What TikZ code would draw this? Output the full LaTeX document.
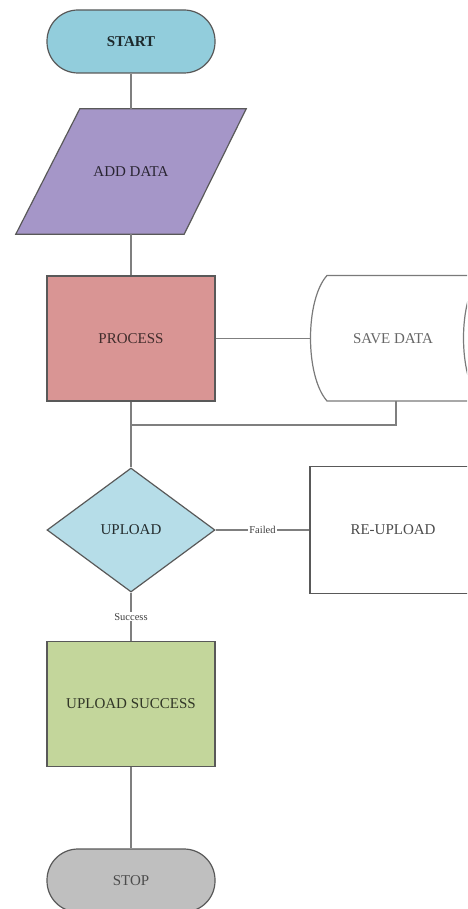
\documentclass[tikz,border=0pt]{standalone}
\usepackage{fontspec}
\setmainfont{Liberation Serif}
\usetikzlibrary{shapes.geometric,calc}
\definecolor{cstart}{HTML}{92CDDC}
\definecolor{cadd}{HTML}{A596C8}
\definecolor{cproc}{HTML}{D99594}
\definecolor{cupl}{HTML}{B6DDE8}
\definecolor{csucc}{HTML}{C3D69B}
\definecolor{cstop}{HTML}{BFBFBF}
\definecolor{cborder}{HTML}{595959}
\definecolor{cline}{HTML}{7F7F7F}
\tikzset{
  shapeborder/.style={draw=cborder, line width=1.2pt},
  flowline/.style={draw=cline, line width=1.6pt},
  terminal/.style={shapeborder, rounded corners=31pt, minimum width=168pt, minimum height=63pt, inner sep=0pt},
  procbox/.style={shapeborder, minimum width=168pt, minimum height=125pt, inner sep=0pt},
  boxtext/.style={font=\fontsize{15}{17}\selectfont},
  edgelabel/.style={fill=white, inner sep=1pt, font=\fontsize{10.5}{12}\selectfont, text=black!75},
}
\begin{document}
\begin{tikzpicture}[x=1pt,y=-1pt]
\useasboundingbox (0,0) rectangle (467,909);
\clip (0,0) rectangle (467,909);

% START
\node[terminal, fill=cstart, text=cstart!20!black, font=\fontsize{15}{17}\selectfont\bfseries] (start) at (131,41.5) {START};

% ADD DATA parallelogram
\node[minimum width=230pt, minimum height=125pt, inner sep=0pt] (add) at (131,171.5) {};
\draw[shapeborder, fill=cadd] ($(add.north west)+(64,0)$) -- (add.north east) -- ($(add.south east)+(-62,0)$) -- (add.south west) -- cycle;
\node[boxtext, text=cadd!25!black] (addtext) at (add.center) {ADD DATA};

% PROCESS
\node[procbox, fill=cproc, boxtext, text=cproc!30!black] (proc) at (131,338.5) {PROCESS};

% SAVE DATA (stored data)
\fill[white] (327,275.5) -- (480,275.5) .. controls (458,300) and (458,376) .. (480,401) -- (327,401) .. controls (305,376) and (305,300) .. (327,275.5) -- cycle;
\draw[shapeborder, draw=cborder!80] (480,275.5) -- (327,275.5) .. controls (305,300) and (305,376) .. (327,401) -- (480,401);
\draw[shapeborder, draw=cborder!80] (480,275.5) .. controls (458,300) and (458,376) .. (480,401);
\node[boxtext, text=black!60, minimum width=150pt, minimum height=125pt, inner sep=0pt] (save) at (393,338.5) {SAVE DATA};
\coordinate (savein) at (310.5,338.5);
\coordinate (saveout) at (396,401);
\coordinate (join) at (131,425);

% UPLOAD diamond
\node[diamond, shapeborder, fill=cupl, minimum width=168pt, minimum height=124pt, inner sep=0pt, boxtext, text=cupl!20!black] (upl) at (131,530) {UPLOAD};

% RE-UPLOAD
\node[shapeborder, fill=white, minimum width=170pt, minimum height=127pt, inner sep=0pt] (reup) at (395,530) {};
\node[boxtext, text=black!70] (reuptext) at (393,530) {RE-UPLOAD};

% UPLOAD SUCCESS
\node[procbox, fill=csucc, boxtext, text=csucc!25!black] (succ) at (131,704) {UPLOAD SUCCESS};

% STOP
\node[terminal, fill=cstop, boxtext, text=black!70] (stop) at (131,880.5) {STOP};

% connectors
\draw[flowline] (start.south) -- (add.north);
\draw[flowline] (add.south) -- (proc.north);
\draw[flowline] (proc.east) -- (savein);
\draw[flowline] (saveout) -- (396,425) -- (join);
\draw[flowline] (proc.south) -- (join) -- (upl.north);
\draw[flowline] (upl.east) -- node[edgelabel] {Failed} (reup.west);
\draw[flowline] (upl.south) -- node[edgelabel] {Success} (succ.north);
\draw[flowline] (succ.south) -- (stop.north);
\end{tikzpicture}
\end{document}
